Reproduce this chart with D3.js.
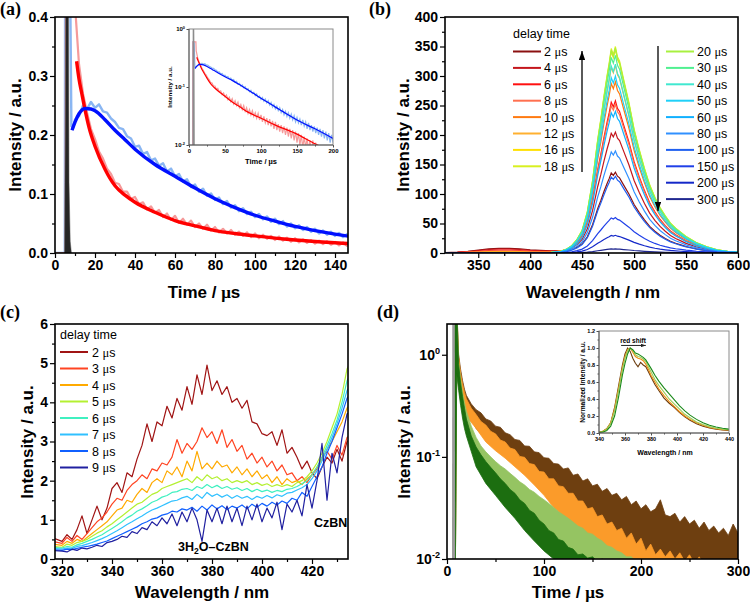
<!DOCTYPE html>
<html>
<head>
<meta charset="utf-8">
<script src="https://cdn.jsdelivr.net/npm/d3@7"></script>
<style>
  body { margin: 0; background: #fff; }
</style>
</head>
<body>
<div id="chart"></div>
<script>
// ---------- (a) transient PL decay, linear + log inset ----------
var RAW_T_A = [10,12,14,16,18,20,22,24,26,28,30,32,34,36,38,40,42,44,46,48,50,52,54,56,58,60,62,64,66,68,70,72,74,76,78,80,82,84,86,88,90,92,94,96,98,100,102,104,106,108,110,112,114,116,118,120,122,124,126,128,130,132,134,136,138,140,142,144,146,148,150,152,154,156,158,160,162,164,166,168,170,172,174,176,178,180,182,184,186,188,190,192,194,196,198,200];
var BLUE_RAW_A = [0.226,0.232,0.25,0.244,0.256,0.246,0.252,0.24,0.238,0.228,
  0.222,0.212,0.21,0.198,0.194,0.18,0.182,0.168,0.171,0.157,
  0.16,0.148,0.152,0.138,0.143,0.13,0.134,0.121,0.125,0.112,
  0.116,0.104,0.109,0.097,0.101,0.09,0.094,0.083,0.088,0.077,
  0.081,0.071,0.076,0.066,0.07,0.061,0.066,0.057,0.062,0.053,
  0.058,0.049,0.054,0.045,0.05,0.042,0.047,0.039,0.044,0.036,
  0.041,0.033,0.038,0.031,0.036,0.029,0.034,0.027,0.032,0.025,
  0.03,0.024,0.028,0.022,0.027,0.021,0.025,0.019,0.024,0.018,
  0.022,0.017,0.021,0.016,0.02,0.015,0.019,0.014,0.018,0.013,
  0.017,0.012,0.016,0.011,0.015,0.011];
var RED_RAW_A = [0.42,0.32,0.27,0.238,0.21,0.193,0.172,0.16,0.143,0.134,
  0.119,0.117,0.104,0.104,0.092,0.095,0.083,0.086,0.074,0.079,
  0.068,0.073,0.061,0.067,0.056,0.063,0.051,0.058,0.048,0.055,
  0.044,0.05,0.041,0.048,0.038,0.044,0.035,0.041,0.033,0.039,
  0.031,0.036,0.029,0.035,0.027,0.033,0.025,0.031,0.024,0.029,
  0.022,0.028,0.021,0.026,0.019,0.025,0.018,0.023,0.017,0.022,
  0.016,0.021,0.015,0.02,0.014,0.019,0.013,0.018,0.012,0.017,
  0.011,0.016,0.01,0.015,0.009,0.014,0.009,0.013,0.008,0.012,
  0.007,0.012,0.007,0.011,0.006,0.01,0.006,0.01,0.005,0.009,
  0.005,0.009,0.004,0.008,0.004,0.008];
var BLUE_PRE_T = [0, 4.9, 5.1, 7.2, 8.2, 9.0];
var BLUE_PRE_V = [0, 0, 0.6, 0.6, 0.215, 0.212];
var RED_PRE_T = [0, 5.3, 5.5, 9.6];
var RED_PRE_V = [0, 0, 0.6, 0.6];
var IRF_T_A = [4.8, 5.2, 5.8, 6.4, 7.0, 7.6, 8.2];
var IRF_V_A = [0, 0.25, 0.9, 0.9, 0.12, 0.02, 0];
var BLUE_FIT_T = [8.5, 10, 12, 15, 18, 20, 25, 30, 35, 40, 50, 60, 70, 80, 90, 100, 110, 120, 130, 140, 150, 175, 200];
var BLUE_FIT_V = [0.208, 0.222, 0.236, 0.245, 0.244, 0.241, 0.226, 0.208, 0.192, 0.176, 0.15, 0.13, 0.11, 0.092, 0.077, 0.064, 0.054, 0.045, 0.038, 0.032, 0.027, 0.019, 0.013];
var RED_FIT_T = [10.8, 12, 13.3, 15, 17, 20, 25, 30, 35, 40, 50, 60, 70, 80, 90, 100, 120, 147, 175, 200];
var RED_FIT_V = [0.325, 0.295, 0.272, 0.243, 0.213, 0.181, 0.142, 0.114, 0.098, 0.086, 0.069, 0.055, 0.046, 0.038, 0.033, 0.029, 0.022, 0.016, 0.0105, 0.0075];

// ---------- (b) delayed spectra ----------
var B_WL = [316,330,340,350,360,370,380,390,400,410,420,430,435,440,445,450,455,460,465,468,471,474,476,478,480,482,484,486,490,495,500,505,510,515,520,525,530,535,540,545,550,555,560,570,580,590,600];
var B_SHAPE = [0,0,0,0,0,0,0,0,0,0,0.002,0.008,0.018,0.035,0.065,0.11,0.2,0.35,0.55,0.65,0.76,0.86,0.92,0.99,0.96,1.0,0.95,0.93,0.84,0.73,0.6,0.5,0.41,0.33,0.27,0.22,0.18,0.145,0.12,0.1,0.08,0.065,0.05,0.03,0.015,0.008,0.004];
var B_UV = [0.5,1.5,3,5,7,8,8,7,5.5,4.5,3.5,2.5,2,1.5,1,0.5,0,0,0,0,0,0,0,0,0,0,0,0,0,0,0,0,0,0,0,0,0,0,0,0,0,0,0,0,0,0,0];
var B_DELAYS = ["2","4","6","8","10","12","16","18","20","30","40","50","60","80","100","150","200","300"];
var B_PEAKS = [137,205,258,252,290,318,345,350,347,335,320,300,240,173,130,60,30,7];
var B_UV_SCALE = [1,0.85,0.6,0.45,0.3,0.2,0.15,0.1,0.08,0.06,0.05,0.04,0.03,0.02,0.02,0.01,0,0];
var B_COLORS = ["#8b1010","#c4161c","#ff1010","#ff7050","#ff7a10","#ffb030","#ffe000","#d8f020",
  "#a8f040","#50f090","#40e8d0","#20d0f8","#10b0ff","#3090ff","#2060f0","#2040e8","#1428c8","#202890"];

// ---------- (c) early delayed spectra ----------
var C_WL = [316,320,322,324,326,328,330,332,334,336,338,340,342,344,346,348,350,352,354,356,358,360,362,364,366,368,370,372,374,376,378,380,382,384,386,388,390,392,394,396,398,400,402,404,406,408,410,412,414,416,418,420,422,424,426,428,430,432,434,436];
var C_2US = [0.55,0.45,0.62,0.5,0.75,1.1,0.65,1.0,1.35,1.0,1.3, 1.8,1.95,1.7,2.2,2.1,2.55,2.9,3.45,3.0,3.5, 3.4,3.9,3.6,4.1,3.8,4.4,3.95,4.7,4.2,4.95, 4.3,4.55,4.2,4.4,4.0,4.1,3.85,4.05,3.5,3.45, 3.2,3.15,3.25,2.9,3.3,2.7,2.85,2.6,2.3,2.5, 2.2,2.05,2.35,2.6,2.45,2.8,2.5,3.0,3.1];
var C_3US = [0.45,0.4,0.55,0.45,0.6,0.5,0.65,0.8,0.95,1.05,1.2, 1.4,1.55,1.5,1.75,1.9,2.0,2.15,2.05,2.3,2.25, 2.45,2.4,2.6,3.05,2.7,2.95,2.8,3.0,3.35,3.1, 3.25,2.95,3.3,2.85,3.05,2.75,2.9,2.55,2.7,2.45, 2.6,2.35,2.5,2.25,2.4,2.15,2.2,2.0,2.1,1.95, 2.15,2.3,2.6,2.75,2.55,2.9,2.65,3.1,3.2];
var C_4US = [0.38,0.35,0.45,0.4,0.5,0.45,0.55,0.65,0.75,0.85,0.95, 1.1,1.25,1.3,1.5,1.45,1.65,1.8,1.7,1.95,2.05, 1.95,2.25,2.15,2.35,2.1,2.5,2.25,2.75,2.3,2.45, 2.3,2.5,2.35,2.4,2.2,2.35,2.15,2.3,2.1,2.25, 2.05,2.15,1.95,2.1,1.9,2.05,1.95,2.0,1.9,2.05, 2.15,2.35,2.55,2.8,3.0,3.25,3.5,3.85,4.0];
var C_5US = [0.32,0.3,0.38,0.35,0.42,0.45,0.5,0.58,0.66,0.72,0.82, 0.9,1.0,1.1,1.2,1.3,1.4,1.45,1.55,1.65,1.7, 1.8,1.85,1.9,1.95,2.0,2.05,1.95,2.1,2.0,2.15, 2.05,2.1,2.0,2.05,1.95,2.0,1.95,2.0,1.9,1.95, 1.88,1.92,1.85,1.9,1.85,1.9,1.85,1.95,2.0,2.1, 2.25,2.45,2.7,3.0,3.35,3.7,4.2,4.85,5.1];
var C_6US = [0.3,0.28,0.32,0.3,0.36,0.4,0.45,0.5,0.56,0.62,0.7, 0.78,0.86,0.95,1.05,1.12,1.22,1.28,1.36,1.45,1.5, 1.58,1.62,1.7,1.72,1.78,1.8,1.75,1.85,1.8,1.9, 1.82,1.88,1.8,1.85,1.78,1.82,1.75,1.8,1.72,1.78, 1.72,1.76,1.7,1.75,1.72,1.78,1.8,1.85,1.92,2.0, 2.15,2.35,2.6,2.9,3.2,3.55,4.0,4.55,4.8];
var C_7US = [0.27,0.25,0.28,0.27,0.32,0.34,0.38,0.42,0.47,0.52,0.58, 0.65,0.72,0.8,0.88,0.95,1.03,1.1,1.18,1.25,1.3, 1.36,1.42,1.48,1.5,1.56,1.6,1.52,1.65,1.55,1.7, 1.6,1.66,1.58,1.64,1.55,1.62,1.55,1.6,1.52,1.6, 1.55,1.62,1.56,1.64,1.6,1.68,1.7,1.76,1.82,1.9, 2.05,2.25,2.5,2.8,3.1,3.45,3.85,4.3,4.5];
var C_8US = [0.24,0.22,0.25,0.24,0.27,0.3,0.32,0.35,0.38,0.42,0.46, 0.52,0.58,0.64,0.7,0.76,0.82,0.9,0.95,1.02,1.05, 1.12,1.15,1.22,1.2,1.28,1.25,1.32,1.22,1.35,1.25, 1.38,1.28,1.36,1.26,1.35,1.3,1.38,1.28,1.4,1.32, 1.42,1.35,1.45,1.38,1.48,1.42,1.55,1.5,1.7,1.6, 1.85,2.1,2.35,2.7,3.0,3.35,3.7,4.1,4.3];
var C_9US = [0.22,0.2,0.18,0.25,0.22,0.28,0.26,0.3,0.35,0.32,0.42, 0.45,0.5,0.58,0.55,0.7,0.65,0.8,0.75,0.95,0.85, 1.05,0.9,1.15,0.85,1.2,0.95,1.3,1.0,0.45,1.25, 0.95,1.3,0.9,1.35,0.95,1.3,0.85,1.35,1.0,1.4, 0.95,1.3,1.05,1.45,0.75,1.4,1.2,1.5,1.1,1.9, 1.3,2.0,2.95,1.5,2.7,2.2,3.1,3.7,3.8];
var C_LABELS = ["2","3","4","5","6","7","8","9"];
var C_COLORS = ["#a01414","#ff4422","#ffaa00","#b4f032","#40f0c0","#30c0ff","#1060ff","#2020a0"];

// ---------- (d) decays on log scale + normalized spectra inset ----------
var D_T_HI = [8,10,12,14,16,18,20,25,30,35,40,45,50,55,60,65,70,75,80,85,90,95,100,105,110,115,120,125,130,135,140,145,150,155,160,165,170,175,180,185,190,195,200,205,210,215,220,225,230,235,240,245,250,255,260,265,270,275,280,285,290,295,300];
var D_T_LO = [8,10,12,14,16,18,20,30,40,50,60,70,80,90,100,110,120,130,140,150,160,170,180,190,200,210,220,230,240,250,260,270,280,290,300];
var D_BROWN_HI = [3,3,1.0,0.72,0.56,0.46,0.4, 0.33,0.29,0.27,0.235,0.225,0.2,0.195,0.172,0.165,0.148, 0.145,0.128,0.127,0.112,0.11,0.098,0.097,0.086,0.085,0.076, 0.078,0.066,0.068,0.058,0.061,0.052,0.054,0.046,0.049,0.042, 0.044,0.038,0.041,0.034,0.037,0.031,0.034,0.029,0.031,0.038, 0.027,0.026,0.028,0.023,0.026,0.022,0.024,0.02,0.023,0.019, 0.021,0.018,0.02,0.017,0.022,0.018];
var D_BROWN_LO = [0.001,0.8,0.6,0.45,0.38,0.33,0.29, 0.19,0.15,0.12,0.1,0.085,0.07,0.06,0.05,0.042,0.035,0.03,0.026,0.022,0.019,0.016,0.014,0.012,0.011,0.01,0.009,0.007,0.006,0.005,0.005,0.005,0.005,0.005,0.005];
var D_ORANGE_HI = [3,3,0.95,0.66,0.52,0.43,0.37, 0.3,0.26,0.222,0.205,0.178,0.168,0.146,0.14,0.122,0.118, 0.101,0.099,0.086,0.084,0.072,0.071,0.061,0.061,0.052,0.051, 0.044,0.044,0.037,0.037,0.031,0.032,0.026,0.027,0.022,0.023, 0.019,0.02,0.016,0.018,0.014,0.016,0.012,0.014,0.011,0.0125, 0.0105,0.012,0.01,0.0115,0.0095,0.011,0.009,0.0105,0.0088,0.01, 0.0085,0.0098,0.008,0.0093,0.0078,0.009];
var D_ORANGE_LO = [0.001,0.75,0.55,0.42,0.34,0.29,0.25, 0.19,0.14,0.115,0.097,0.08,0.066,0.053,0.042,0.032,0.026,0.022,0.019,0.016,0.014,0.012,0.0105,0.009,0.008,0.005,0.005,0.005,0.005,0.005,0.005,0.005,0.005,0.005,0.005];
var D_LGREEN_HI = [3,3,0.85,0.58,0.43,0.34,0.28, 0.2,0.155,0.128,0.112,0.1,0.09,0.082,0.076,0.069,0.063, 0.057,0.053,0.048,0.045,0.041,0.038,0.035,0.032,0.029,0.027, 0.025,0.023,0.021,0.02,0.018,0.0175,0.016,0.015,0.0135,0.013, 0.012,0.0115,0.0105,0.0105,0.0095,0.0098,0.009,0.0095,0.0085,0.009, 0.008,0.0085,0.007,0.0075,0.007,0.007,0.006,0.0065,0.006,0.006, 0.006,0.006,0.005,0.006,0.005,0.005];
var D_LGREEN_LO = [0.001,0.7,0.5,0.36,0.27,0.22,0.19, 0.105,0.075,0.058,0.046,0.037,0.03,0.024,0.019,0.015,0.012,0.01,0.005,0.005,0.005,0.005,0.005,0.005,0.005,0.005,0.005,0.005,0.005,0.005,0.005,0.005,0.005,0.005,0.005];
var D_DGREEN_HI = [3,3,0.8,0.53,0.39,0.3,0.235, 0.16,0.125,0.105,0.09,0.079,0.07,0.061,0.055,0.048,0.044, 0.038,0.035,0.03,0.028,0.024,0.022,0.019,0.018,0.0155,0.015, 0.013,0.0125,0.011,0.0112,0.0102,0.0105,0.0095,0.01,0.009,0.0095, 0.0085,0.009,0.008,0.0085,0.007,0.007,0.006,0.006,0.006,0.005, 0.005,0.005,0.005,0.005,0.005,0.005,0.005,0.005,0.005,0.005, 0.005,0.005,0.005,0.005,0.005,0.005];
var D_DGREEN_LO = [0.001,0.65,0.45,0.32,0.24,0.19,0.16, 0.08,0.055,0.042,0.032,0.025,0.019,0.015,0.012,0.01,0.005,0.005,0.005,0.005,0.005,0.005,0.005,0.005,0.005,0.005,0.005,0.005,0.005,0.005,0.005,0.005,0.005,0.005,0.005];
var D_IRF_T = [5, 5.5, 8, 8.5];
var D_IRF_V = [0.001, 5, 5, 0.001];

var D_IN_WL = [340,343,346,349,352,355,358,360,362,364,366,368,370,372,374,376,378,380,383,386,390,394,398,402,406,410,415,420,425,430,435,440];
var D_IN_BROWN = [0.01,0.02,0.05,0.12,0.3,0.55,0.8,0.93,1.0,0.96,0.88,0.82,0.78,0.83,0.8,0.78,0.72,0.66,0.57,0.5,0.41,0.35,0.3,0.24,0.19,0.15,0.11,0.08,0.06,0.045,0.035,0.03];
var D_IN_ORANGE = [0.01,0.02,0.05,0.12,0.28,0.52,0.77,0.9,0.98,1.0,0.95,0.9,0.88,0.87,0.85,0.81,0.75,0.68,0.6,0.52,0.44,0.37,0.31,0.25,0.2,0.16,0.12,0.09,0.065,0.05,0.04,0.035];
var D_IN_LGREEN = [0.008,0.018,0.045,0.11,0.26,0.5,0.75,0.88,0.97,1.0,0.97,0.92,0.9,0.89,0.87,0.84,0.78,0.72,0.63,0.56,0.48,0.4,0.34,0.28,0.22,0.18,0.13,0.1,0.075,0.055,0.045,0.04];
var D_IN_DGREEN = [0.005,0.01,0.03,0.08,0.2,0.42,0.68,0.82,0.93,1.0,0.98,0.94,0.93,0.91,0.89,0.86,0.81,0.76,0.68,0.61,0.53,0.46,0.39,0.32,0.26,0.21,0.16,0.12,0.09,0.07,0.055,0.045];

(function () {
    var width = 750,
        height = 608;
    var SANS = "'Liberation Sans', Arial, sans-serif";
    var SERIF = "'Liberation Serif', 'Times New Roman', serif";

    var svg = d3.select("#chart")
        .append("svg")
        .attr("width", width)
        .attr("height", height)
        .style("display", "block");
    svg.append("rect").attr("width", width).attr("height", height).attr("fill", "#fff");

    var defs = svg.append("defs");
    defs.append("marker").attr("id", "arr").attr("viewBox", "0 0 10 7")
        .attr("refX", 10).attr("refY", 3.5).attr("markerUnits", "userSpaceOnUse")
        .attr("markerWidth", 9).attr("markerHeight", 6.3).attr("orient", "auto")
        .append("path").attr("d", "M0,0L10,3.5L0,7Z").attr("fill", "#000");
    defs.append("marker").attr("id", "arrs").attr("viewBox", "0 0 10 7")
        .attr("refX", 10).attr("refY", 3.5).attr("markerUnits", "userSpaceOnUse")
        .attr("markerWidth", 5).attr("markerHeight", 3.5).attr("orient", "auto")
        .append("path").attr("d", "M0,0L10,3.5L0,7Z").attr("fill", "#222");

    var clipN = 0;
    function clipFor(x, y) {
        var id = "clip" + (clipN++);
        var x0 = x.range()[0], x1 = x.range()[1], yb = y.range()[0], yt = y.range()[1];
        defs.append("clipPath").attr("id", id).append("rect")
            .attr("x", x0).attr("y", yt).attr("width", x1 - x0).attr("height", yb - yt);
        return "url(#" + id + ")";
    }

    function pairs(ts, vs) {
        return ts.map(function (t, i) { return [t, vs[i]]; });
    }

    function lineFor(x, y, floor) {
        return d3.line()
            .x(function (d) { return x(d[0]); })
            .y(function (d) { return y(floor ? Math.max(d[1], floor) : d[1]); });
    }

    // text with a serif mu, like the original figure
    function withMu(t, str) {
        str.split("μ").forEach(function (s, i) {
            if (i > 0) t.append("tspan").attr("font-family", SERIF).text("μ");
            if (s) t.append("tspan").text(s);
        });
        return t;
    }

    function styleAxis(sel, o) {
        sel.attr("font-family", SANS).attr("font-size", o.fs).attr("font-weight", "bold");
        sel.select(".domain").remove();
        sel.selectAll(".tick line").attr("stroke", "#000").attr("stroke-width", o.lw);
        sel.selectAll(".tick text").attr("fill", "#000");
    }

    function drawAxes(g, x, y, o) {
        var xl = x.range()[0], xr = x.range()[1], yb = y.range()[0], yt = y.range()[1];
        if (o.xMinor) g.append("g").attr("transform", "translate(0," + yb + ")")
            .call(d3.axisBottom(x).tickValues(o.xMinor).tickSize(o.minor).tickFormat(""))
            .call(styleAxis, o);
        g.append("g").attr("transform", "translate(0," + yb + ")")
            .call(d3.axisBottom(x).tickValues(o.xTicks).tickSize(o.major).tickPadding(o.pad).tickFormat(o.xFmt || d3.format("d")))
            .call(styleAxis, o);
        if (o.yMinor) g.append("g").attr("transform", "translate(" + xl + ",0)")
            .call(d3.axisLeft(y).tickValues(o.yMinor).tickSize(o.minor).tickFormat(""))
            .call(styleAxis, o);
        var ya = g.append("g").attr("transform", "translate(" + xl + ",0)")
            .call(d3.axisLeft(y).tickValues(o.yTicks).tickSize(o.major).tickPadding(o.pad).tickFormat(o.yFmt || d3.format("d")))
            .call(styleAxis, o);
        if (o.log) {
            ya.selectAll(".tick text").each(function (d) {
                var t = d3.select(this).text("");
                t.append("tspan").text("10");
                t.append("tspan").attr("dy", -o.fs * 0.42).attr("font-size", o.fs * 0.65)
                    .text(Math.round(Math.log10(d)));
            });
        }
        g.append("rect")
            .attr("x", xl).attr("y", yt).attr("width", xr - xl).attr("height", yb - yt)
            .attr("fill", "none").attr("stroke", o.frame || "#000").attr("stroke-width", o.sw);
        if (o.frame) {
            g.append("path").attr("d", "M" + xl + "," + yt + "V" + yb + "H" + xr)
                .attr("fill", "none").attr("stroke", "#333").attr("stroke-width", o.lw);
        }
    }

    function axisTitle(x, y, str, fs, rot) {
        var t = svg.append("text")
            .attr("transform", "translate(" + x + "," + y + ")" + (rot ? " rotate(-90)" : ""))
            .attr("text-anchor", "middle")
            .attr("font-family", SANS).attr("font-weight", "bold").attr("font-size", fs);
        return withMu(t, str);
    }

    function panelLabel(x, y, str) {
        svg.append("text").attr("x", x).attr("y", y)
            .attr("font-family", SERIF).attr("font-weight", "bold").attr("font-size", 18)
            .text(str);
    }

    var mainAxis = { fs: 14, lw: 1.2, major: 5, minor: 3, pad: 2, sw: 1.6 };
    function opts(extra) {
        return Object.assign(Object.assign({}, mainAxis), extra);
    }
    var insetAxis = { fs: 6, lw: 0.7, major: 2.5, minor: 1.5, pad: 1.5, sw: 1, frame: "#8a8a8a" };
    function iopts(extra) {
        return Object.assign(Object.assign({}, insetAxis), extra);
    }

    // ================= panel (a) =================
    var xa = d3.scaleLinear().domain([0, 146.5]).range([55, 348]);
    var ya = d3.scaleLinear().domain([0, 0.4]).range([253, 17]);
    var ga = svg.append("g");
    var gaData = ga.append("g").attr("clip-path", clipFor(xa, ya));
    var la = lineFor(xa, ya);

    var blueRaw = pairs(BLUE_PRE_T, BLUE_PRE_V).concat(pairs(RAW_T_A, BLUE_RAW_A));
    var redRaw = pairs(RED_PRE_T, RED_PRE_V).concat(pairs(RAW_T_A, RED_RAW_A));

    gaData.append("path").attr("d", la(blueRaw)).attr("fill", "none")
        .attr("stroke", "#8ab6f2").attr("stroke-width", 2.4).attr("stroke-linejoin", "round");
    gaData.append("path").attr("d", la(redRaw)).attr("fill", "none")
        .attr("stroke", "#f59a9a").attr("stroke-width", 2.2).attr("stroke-linejoin", "round");
    gaData.append("path")
        .attr("d", d3.area().x(function (d) { return xa(d[0]); }).y0(ya(0)).y1(function (d) { return ya(d[1]); })(pairs(IRF_T_A, IRF_V_A)))
        .attr("fill", "#262626").attr("stroke", "#555").attr("stroke-width", 0.5);
    var laFit = lineFor(xa, ya).curve(d3.curveMonotoneX);
    gaData.append("path").attr("d", laFit(pairs(RED_FIT_T, RED_FIT_V))).attr("fill", "none")
        .attr("stroke", "#ff0000").attr("stroke-width", 3.4);
    gaData.append("path").attr("d", laFit(pairs(BLUE_FIT_T, BLUE_FIT_V))).attr("fill", "none")
        .attr("stroke", "#0010ff").attr("stroke-width", 3.4);

    drawAxes(ga, xa, ya, opts({
        xTicks: [0, 20, 40, 60, 80, 100, 120, 140], xMinor: [10, 30, 50, 70, 90, 110, 130],
        yTicks: [0, 0.1, 0.2, 0.3, 0.4], yMinor: [0.05, 0.15, 0.25, 0.35], yFmt: d3.format(".1f")
    }));
    axisTitle(204, 298, "Time / μs", 17, false);
    axisTitle(21, 135, "Intensity / a.u.", 17, true);
    panelLabel(0, 15, "(a)");

    // inset of (a)
    var xai = d3.scaleLinear().domain([0, 200]).range([189, 333]);
    var yai = d3.scaleLog().domain([0.01, 1]).range([145, 29]);
    var gai = svg.append("g");
    gai.append("rect").attr("x", 189).attr("y", 29).attr("width", 144).attr("height", 116).attr("fill", "#fff");
    var gaiData = gai.append("g").attr("clip-path", clipFor(xai, yai));
    var lai = lineFor(xai, yai, 1e-4);
    gaiData.append("path").attr("d", lai(blueRaw)).attr("fill", "none")
        .attr("stroke", "#8ab6f2").attr("stroke-width", 1.2);
    gaiData.append("path").attr("d", lai(redRaw)).attr("fill", "none")
        .attr("stroke", "#f59a9a").attr("stroke-width", 1.2);
    gaiData.append("path")
        .attr("d", d3.area().x(function (d) { return xai(d[0]); }).y0(yai(0.001)).y1(function (d) { return yai(Math.max(d[1], 1e-4) * 20); })(pairs(IRF_T_A, IRF_V_A)))
        .attr("fill", "#8c8c8c");
    var laiFit = lineFor(xai, yai, 1e-4).curve(d3.curveMonotoneX);
    gaiData.append("path").attr("d", laiFit(pairs(RED_FIT_T, RED_FIT_V))).attr("fill", "none")
        .attr("stroke", "#ff0000").attr("stroke-width", 1.2);
    gaiData.append("path").attr("d", laiFit(pairs(BLUE_FIT_T, BLUE_FIT_V))).attr("fill", "none")
        .attr("stroke", "#0010ff").attr("stroke-width", 1.2);
    drawAxes(gai, xai, yai, iopts({
        xTicks: [0, 50, 100, 150, 200], xMinor: [25, 75, 125, 175],
        yTicks: [0.01, 0.1, 1], log: true
    }));
    axisTitle(261, 164, "Time / μs", 7.5, false);
    axisTitle(172, 87, "Intensity / a.u.", 6.2, true);

    // ================= panel (b) =================
    var xb = d3.scaleLinear().domain([318, 600]).range([445, 738]);
    var yb = d3.scaleLinear().domain([0, 400]).range([253, 17]);
    var gb = svg.append("g");
    var gbData = gb.append("g").attr("clip-path", clipFor(xb, yb));
    var lb = lineFor(xb, yb);
    B_DELAYS.forEach(function (dl, i) {
        var spec = B_WL.map(function (w, j) {
            return [w, B_SHAPE[j] * B_PEAKS[i] + B_UV[j] * B_UV_SCALE[i]];
        });
        gbData.append("path").attr("d", lb(spec)).attr("fill", "none")
            .attr("stroke", B_COLORS[i]).attr("stroke-width", 1.2);
    });
    drawAxes(gb, xb, yb, opts({
        xTicks: [350, 400, 450, 500, 550, 600], xMinor: [325, 375, 425, 475, 525, 575],
        yTicks: d3.range(0, 401, 50), yMinor: d3.range(25, 400, 50)
    }));
    axisTitle(593, 298, "Wavelength / nm", 17, false);
    axisTitle(409, 135, "Intensity / a.u.", 17, true);
    panelLabel(369, 15, "(b)");

    // legend (b)
    var legB = svg.append("g").attr("font-family", SANS).attr("font-size", 12.5);
    legB.append("text").attr("x", 513).attr("y", 38).text("delay time");
    B_DELAYS.forEach(function (dl, i) {
        var col = i < 8 ? 0 : 1;
        var row = i < 8 ? i : i - 8;
        var yy = 51.5 + row * 16.4;
        var x0 = col ? 666 : 513;
        legB.append("line").attr("x1", x0).attr("x2", x0 + 28).attr("y1", yy).attr("y2", yy)
            .attr("stroke", B_COLORS[i]).attr("stroke-width", 2);
        withMu(legB.append("text").attr("x", x0 + 31).attr("y", yy + 4.5), dl + " μs");
    });
    svg.append("line").attr("x1", 582).attr("x2", 582).attr("y1", 172).attr("y2", 51)
        .attr("stroke", "#000").attr("stroke-width", 1.3).attr("marker-end", "url(#arr)");
    svg.append("line").attr("x1", 658).attr("x2", 658).attr("y1", 46).attr("y2", 211)
        .attr("stroke", "#000").attr("stroke-width", 1.3).attr("marker-end", "url(#arr)");

    // ================= panel (c) =================
    var xc = d3.scaleLinear().domain([317.2, 434.4]).range([55, 348]);
    var yc = d3.scaleLinear().domain([0, 6]).range([559, 324]);
    var gc = svg.append("g");
    var gcData = gc.append("g").attr("clip-path", clipFor(xc, yc));
    var lc = lineFor(xc, yc);
    var cSeries = [C_2US, C_3US, C_4US, C_5US, C_6US, C_7US, C_8US, C_9US];
    cSeries.forEach(function (vals, i) {
        gcData.append("path").attr("d", lc(pairs(C_WL, vals))).attr("fill", "none")
            .attr("stroke", C_COLORS[i]).attr("stroke-width", 1.2).attr("stroke-linejoin", "round");
    });
    drawAxes(gc, xc, yc, opts({
        xTicks: [320, 340, 360, 380, 400, 420], xMinor: [330, 350, 370, 390, 410, 430],
        yTicks: [0, 1, 2, 3, 4, 5, 6], yMinor: [0.5, 1.5, 2.5, 3.5, 4.5, 5.5]
    }));
    axisTitle(202, 598, "Wavelength / nm", 17, false);
    axisTitle(33, 442, "Intensity / a.u.", 17, true);
    panelLabel(0, 318, "(c)");

    var legC = svg.append("g").attr("font-family", SANS).attr("font-size", 12.5);
    legC.append("text").attr("x", 60).attr("y", 339).text("delay time");
    C_LABELS.forEach(function (lb2, i) {
        var yy = 352 + i * 16.5;
        legC.append("line").attr("x1", 60).attr("x2", 88).attr("y1", yy).attr("y2", yy)
            .attr("stroke", C_COLORS[i]).attr("stroke-width", 2);
        withMu(legC.append("text").attr("x", 92).attr("y", yy + 4.5), lb2 + " μs");
    });
    svg.append("text").attr("x", 314).attr("y", 527)
        .attr("font-family", SANS).attr("font-weight", "bold").attr("font-size", 12.5).text("CzBN");
    var lab3 = svg.append("text").attr("x", 178).attr("y", 551)
        .attr("font-family", SANS).attr("font-weight", "bold").attr("font-size", 12.5);
    lab3.append("tspan").text("3H");
    lab3.append("tspan").attr("dy", 3).attr("font-size", 8.5).text("2");
    lab3.append("tspan").attr("dy", -3).text("O–CzBN");

    // ================= panel (d) =================
    var xd = d3.scaleLinear().domain([0, 300]).range([447, 738]);
    var yd = d3.scaleLog().domain([0.01, 2]).range([559, 324]);
    var gd = svg.append("g");
    var gdData = gd.append("g").attr("clip-path", clipFor(xd, yd));
    var ld = lineFor(xd, yd, 1e-4);
    var bands = [
        [D_BROWN_HI, D_BROWN_LO, "#6e3f10"],
        [D_ORANGE_HI, D_ORANGE_LO, "#fb9b2a"],
        [D_LGREEN_HI, D_LGREEN_LO, "#95c462"],
        [D_DGREEN_HI, D_DGREEN_LO, "#1c6e10"]
    ];
    bands.forEach(function (b) {
        var poly = pairs(D_T_HI, b[0]).concat(pairs(D_T_LO, b[1]).reverse());
        gdData.append("path").attr("d", ld(poly) + "Z")
            .attr("fill", b[2]).attr("stroke", b[2]).attr("stroke-width", 0.8);
    });
    gdData.append("path").attr("d", ld(pairs(D_IRF_T, D_IRF_V)) + "Z").attr("fill", "#9a9a9a");
    drawAxes(gd, xd, yd, opts({
        xTicks: [0, 100, 200, 300], xMinor: [50, 150, 250],
        yTicks: [0.01, 0.1, 1], log: true
    }));
    axisTitle(568, 598, "Time / μs", 17, false);
    axisTitle(410, 442, "Intensity / a.u.", 17, true);
    panelLabel(377, 318, "(d)");

    // inset of (d)
    var xdi = d3.scaleLinear().domain([340, 440]).range([599, 729]);
    var ydi = d3.scaleLinear().domain([0, 1.2]).range([433, 331]);
    var gdi = svg.append("g");
    gdi.append("rect").attr("x", 599).attr("y", 331).attr("width", 130).attr("height", 102).attr("fill", "#fff");
    var gdiData = gdi.append("g").attr("clip-path", clipFor(xdi, ydi));
    var ldi = lineFor(xdi, ydi);
    [[D_IN_BROWN, "#6b3c0e"], [D_IN_ORANGE, "#f08a10"], [D_IN_LGREEN, "#9ccc55"], [D_IN_DGREEN, "#1a8a1a"]]
        .forEach(function (s) {
            gdiData.append("path").attr("d", ldi(pairs(D_IN_WL, s[0]))).attr("fill", "none")
                .attr("stroke", s[1]).attr("stroke-width", 1.1);
        });
    drawAxes(gdi, xdi, ydi, iopts({
        fs: 5.5,
        xTicks: [340, 360, 380, 400, 420, 440], xMinor: [350, 370, 390, 410, 430],
        yTicks: [0, 0.2, 0.4, 0.6, 0.8, 1.0, 1.2], yMinor: [0.1, 0.3, 0.5, 0.7, 0.9, 1.1],
        yFmt: d3.format(".1f")
    }));
    axisTitle(665, 455, "Wavelength / nm", 7, false);
    axisTitle(585, 382, "Normalized Intensity / a.u.", 6.6, true);
    svg.append("text").attr("x", 633).attr("y", 343).attr("text-anchor", "middle")
        .attr("font-family", SANS).attr("font-weight", "bold").attr("font-size", 6.5).text("red shift");
    svg.append("line").attr("x1", xdi(357)).attr("x2", xdi(376)).attr("y1", ydi(1.03)).attr("y2", ydi(1.03))
        .attr("stroke", "#222").attr("stroke-width", 1).attr("marker-end", "url(#arrs)");
})();
</script>
</body>
</html>
